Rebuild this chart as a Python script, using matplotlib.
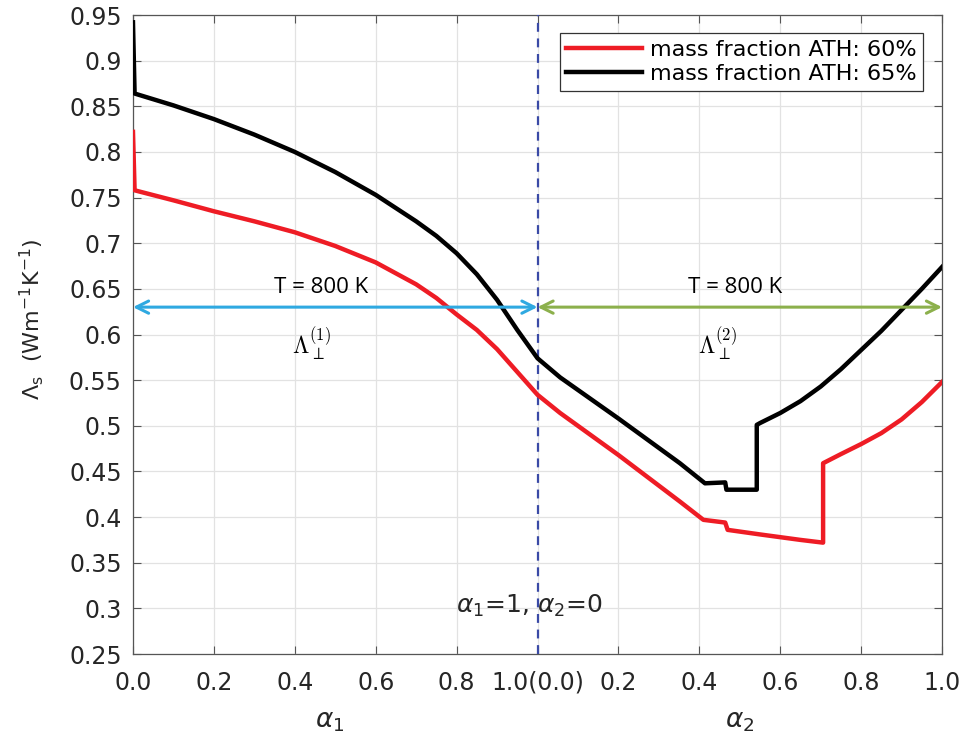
import matplotlib.pyplot as plt
import numpy as np

# alpha_1 branch (left half of the axis)
a1 = [0.0, 0.004, 0.1, 0.2, 0.3, 0.4, 0.5, 0.6, 0.7, 0.75, 0.8, 0.85, 0.9, 0.95, 1.0]
red_a1 = [0.822, 0.758, 0.747, 0.735, 0.724, 0.712, 0.697, 0.679, 0.655, 0.640, 0.622, 0.605, 0.584, 0.559, 0.534]
black_a1 = [0.942, 0.864, 0.851, 0.836, 0.819, 0.800, 0.778, 0.753, 0.724, 0.708, 0.689, 0.666, 0.638, 0.605, 0.574]

# alpha_2 branch (right half of the axis)
a2_red = [0.0, 0.056, 0.2, 0.352, 0.41, 0.464, 0.47, 0.55, 0.6, 0.65, 0.706, 0.706,
          0.75, 0.8, 0.85, 0.9, 0.95, 1.0]
red_a2 = [0.534, 0.514, 0.468, 0.417, 0.397, 0.394, 0.386, 0.381, 0.378, 0.375, 0.372, 0.459,
          0.469, 0.480, 0.492, 0.507, 0.526, 0.548]
a2_black = [0.0, 0.056, 0.2, 0.352, 0.414, 0.464, 0.467, 0.542, 0.542, 0.55, 0.6, 0.65, 0.7,
            0.75, 0.8, 0.85, 0.9, 0.95, 1.0]
black_a2 = [0.574, 0.553, 0.508, 0.459, 0.437, 0.438, 0.430, 0.430, 0.501, 0.503, 0.514, 0.527, 0.543,
            0.562, 0.583, 0.604, 0.627, 0.650, 0.674]

xtick_labels = ['0.0', '0.2', '0.4', '0.6', '0.8', '1.0(0.0)', '0.2', '0.4', '0.6', '0.8', '1.0']
series_labels = ['mass fraction ATH: 60%', 'mass fraction ATH: 65%']
T_level = 0.63

plt.rcParams['font.family'] = 'DejaVu Sans'
fig = plt.figure(figsize=(9.65, 7.4), dpi=100)
ax = fig.add_axes([0.1378, 0.1162, 0.8384, 0.8635])

# combined x axis: alpha_1 in [0,1], alpha_2 shifted to [1,2]
x_red = np.concatenate([a1, 1 + np.array(a2_red)])
y_red = np.concatenate([red_a1, red_a2])
x_black = np.concatenate([a1, 1 + np.array(a2_black)])
y_black = np.concatenate([black_a1, black_a2])

ax.plot(x_red, y_red, color='#ee1c25', lw=3.2, label=series_labels[0], zorder=4)
ax.plot(x_black, y_black, color='black', lw=3.2, label=series_labels[1], zorder=4)

ax.axvline(1.0, color='#3a4aa6', lw=1.6, ls=(0, (4, 3)), zorder=3)

# arrows for T = 800 K
ax.annotate('', xy=(1.0, T_level), xytext=(0.0, T_level),
            arrowprops=dict(arrowstyle='<->', color='#2fa9e1', lw=2.2, mutation_scale=22,
                            shrinkA=0, shrinkB=0), zorder=5)
ax.annotate('', xy=(1.0, T_level), xytext=(2.0, T_level),
            arrowprops=dict(arrowstyle='<->', color='#8cb04c', lw=2.2, mutation_scale=22,
                            shrinkA=0, shrinkB=0), zorder=5)
ax.text(0.465, 0.651, 'T = 800 K', fontsize=16, family='Open Sans', ha='center', va='center')
ax.text(1.488, 0.651, 'T = 800 K', fontsize=16, family='Open Sans', ha='center', va='center')
ax.text(0.44, 0.589, r'$\Lambda_{\perp}^{(1)}$', fontsize=17, math_fontfamily='cm', ha='center', va='center')
ax.text(1.445, 0.589, r'$\Lambda_{\perp}^{(2)}$', fontsize=17, math_fontfamily='cm', ha='center', va='center')
ax.text(0.979, 0.303, r'$\alpha_1$=1, $\alpha_2$=0', fontsize=18, ha='center', va='center', color='#262626')

ax.set_xlim(0, 2)
ax.set_ylim(0.25, 0.95)
ax.set_xticks(np.linspace(0, 2, 11))
ax.set_xticklabels(xtick_labels)
ax.set_yticks(np.round(np.arange(0.25, 0.951, 0.05), 2))
ax.set_yticklabels(['0.25', '0.3', '0.35', '0.4', '0.45', '0.5', '0.55', '0.6', '0.65', '0.7',
                    '0.75', '0.8', '0.85', '0.9', '0.95'])
ax.tick_params(direction='in', top=True, right=True, length=6, width=0.8, color='#555555',
               labelsize=17, labelcolor='#262626')
ax.tick_params(axis='x', pad=12)
ax.tick_params(axis='y', pad=8)
ax.grid(True, color='#e2e2e2', lw=0.9)
ax.set_axisbelow(True)
for s in ax.spines.values():
    s.set_color('#555555')
    s.set_linewidth(0.9)

# x labels under each half
trans = ax.get_xaxis_transform()
ax.text(0.487, -0.105, r'$\alpha_1$', transform=trans, fontsize=19, ha='center', va='center', color='#262626')
ax.text(1.5, -0.105, r'$\alpha_2$', transform=trans, fontsize=19, ha='center', va='center', color='#262626')

ax.set_ylabel(r'$\Lambda_{\mathrm{s}}$  (Wm$^{-1}$K$^{-1}$)', fontsize=16, color='#262626')
ax.yaxis.set_label_coords(-0.108, 0.524)

leg = ax.legend(loc='upper right', bbox_to_anchor=(0.9765, 0.972), borderaxespad=0,
                fontsize=16, handlelength=3.4, fancybox=False, framealpha=1,
                edgecolor='#333333', borderpad=0.3, labelspacing=0.2, handletextpad=0.35)
leg.get_frame().set_linewidth(0.9)

fig.savefig('out.png', dpi=100)
